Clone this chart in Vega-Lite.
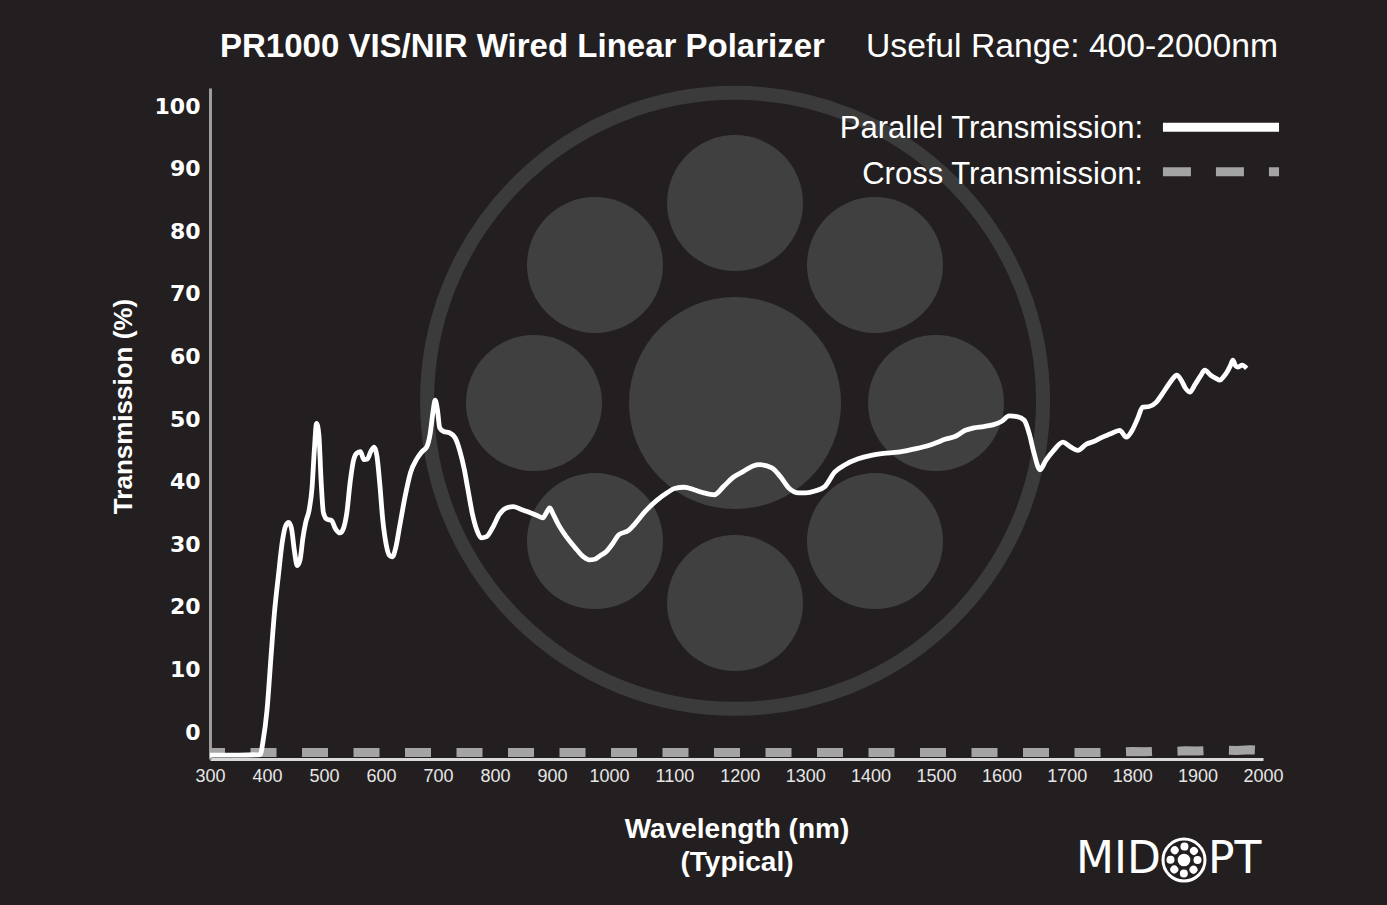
{
  "$schema": "https://vega.github.io/schema/vega-lite/v6.json",
  "width": 1053,
  "height": 671,
  "autosize": {"type": "none"},
  "padding": {"left": 210, "top": 88, "right": 124, "bottom": 146},
  "background": "#231f20",
  "config": {"view": {"stroke": null}},
  "datasets": {
    "parallel": [
      {"wl":300,"t":-3.7},{"wl":350,"t":-3.7},{"wl":388,"t":-3.6},{"wl":393,"t":-1.5},{"wl":400,"t":3.5},{"wl":407,"t":12},{"wl":413,"t":19},{"wl":420,"t":25},{"wl":427,"t":30.5},{"wl":433,"t":33},{"wl":438,"t":33.5},{"wl":443,"t":32.5},{"wl":448,"t":29},{"wl":453,"t":26.6},{"wl":458,"t":27.5},{"wl":463,"t":31},{"wl":468,"t":33.5},{"wl":474,"t":35.5},{"wl":479,"t":39},{"wl":483,"t":45},{"wl":487,"t":49.3},{"wl":491,"t":47.5},{"wl":495,"t":40},{"wl":499,"t":35},{"wl":505,"t":34},{"wl":513,"t":33.8},{"wl":520,"t":32.5},{"wl":528,"t":31.8},{"wl":534,"t":32.5},{"wl":540,"t":35},{"wl":546,"t":40},{"wl":552,"t":43.5},{"wl":558,"t":44.6},{"wl":564,"t":44.8},{"wl":570,"t":43.5},{"wl":576,"t":43.6},{"wl":582,"t":44.8},{"wl":588,"t":45.5},{"wl":593,"t":44},{"wl":598,"t":39.5},{"wl":603,"t":34},{"wl":609,"t":30},{"wl":615,"t":28.2},{"wl":620,"t":28},{"wl":626,"t":29.5},{"wl":633,"t":33},{"wl":642,"t":37.5},{"wl":652,"t":41.5},{"wl":662,"t":43.5},{"wl":672,"t":44.8},{"wl":680,"t":45.5},{"wl":686,"t":47.5},{"wl":691,"t":51},{"wl":695,"t":53},{"wl":699,"t":51.5},{"wl":703,"t":48.6},{"wl":710,"t":48},{"wl":720,"t":47.8},{"wl":730,"t":47},{"wl":738,"t":45},{"wl":746,"t":42},{"wl":752,"t":39},{"wl":760,"t":35},{"wl":768,"t":32.3},{"wl":776,"t":31},{"wl":785,"t":31.2},{"wl":795,"t":32.5},{"wl":808,"t":34.8},{"wl":820,"t":35.8},{"wl":832,"t":36},{"wl":845,"t":35.6},{"wl":860,"t":35.1},{"wl":874,"t":34.6},{"wl":884,"t":34.2},{"wl":890,"t":35},{"wl":896,"t":35.8},{"wl":902,"t":34.8},{"wl":912,"t":33},{"wl":925,"t":31.2},{"wl":940,"t":29.5},{"wl":955,"t":28},{"wl":965,"t":27.5},{"wl":975,"t":27.6},{"wl":985,"t":28.2},{"wl":995,"t":28.8},{"wl":1005,"t":30},{"wl":1015,"t":31.5},{"wl":1030,"t":32.2},{"wl":1040,"t":33.3},{"wl":1055,"t":35.2},{"wl":1073,"t":37},{"wl":1090,"t":38.3},{"wl":1100,"t":38.9},{"wl":1115,"t":39.1},{"wl":1130,"t":38.7},{"wl":1145,"t":38.2},{"wl":1161,"t":37.9},{"wl":1175,"t":39.2},{"wl":1190,"t":40.7},{"wl":1205,"t":41.6},{"wl":1220,"t":42.5},{"wl":1231,"t":42.7},{"wl":1249,"t":42.2},{"wl":1262,"t":40.8},{"wl":1275,"t":39},{"wl":1290,"t":38.2},{"wl":1301,"t":38.2},{"wl":1315,"t":38.5},{"wl":1330,"t":39.2},{"wl":1345,"t":41.5},{"wl":1361,"t":42.7},{"wl":1380,"t":43.6},{"wl":1401,"t":44.2},{"wl":1420,"t":44.5},{"wl":1442,"t":44.7},{"wl":1462,"t":45.1},{"wl":1483,"t":45.6},{"wl":1500,"t":46.2},{"wl":1515,"t":46.8},{"wl":1529,"t":47.2},{"wl":1545,"t":48.2},{"wl":1558,"t":48.6},{"wl":1573,"t":48.8},{"wl":1588,"t":49.1},{"wl":1600,"t":49.6},{"wl":1612,"t":50.5},{"wl":1624,"t":50.4},{"wl":1635,"t":49.8},{"wl":1643,"t":47.5},{"wl":1650,"t":44.5},{"wl":1659,"t":41.9},{"wl":1668,"t":43.4},{"wl":1680,"t":45},{"wl":1694,"t":46.3},{"wl":1705,"t":45.6},{"wl":1717,"t":45},{"wl":1730,"t":46},{"wl":1741,"t":46.4},{"wl":1752,"t":47},{"wl":1766,"t":47.6},{"wl":1781,"t":48.2},{"wl":1791,"t":47.1},{"wl":1800,"t":48.2},{"wl":1808,"t":50},{"wl":1816,"t":51.9},{"wl":1826,"t":52},{"wl":1837,"t":52.7},{"wl":1846,"t":54},{"wl":1853,"t":55.1},{"wl":1861,"t":56.3},{"wl":1868,"t":57},{"wl":1875,"t":56.2},{"wl":1881,"t":55},{"wl":1888,"t":54.3},{"wl":1896,"t":55.5},{"wl":1904,"t":56.8},{"wl":1911,"t":57.8},{"wl":1920,"t":57},{"wl":1928,"t":56.5},{"wl":1934,"t":56.2},{"wl":1940,"t":56.8},{"wl":1945,"t":57.5},{"wl":1950,"t":58.5},{"wl":1954,"t":59.4},{"wl":1958,"t":58.5},{"wl":1962,"t":58.3},{"wl":1968,"t":58.6},{"wl":1975,"t":58.1}
    ],
    "cross": [
      {"wl":300,"t":-3.27},{"wl":600,"t":-3.27},{"wl":1000,"t":-3.27},{"wl":1400,"t":-3.27},{"wl":1750,"t":-3.27},{"wl":1780,"t":-3.2},{"wl":1800,"t":-3.1},{"wl":1820,"t":-3.15},{"wl":1840,"t":-3.05},{"wl":1860,"t":-3.1},{"wl":1880,"t":-3.0},{"wl":1900,"t":-3.05},{"wl":1920,"t":-2.95},{"wl":1940,"t":-2.9},{"wl":1960,"t":-2.95},{"wl":1980,"t":-2.85},{"wl":2000,"t":-2.95}
    ],
    "logoOuter": [
      {"wl":1192.7,"t":84.5},{"wl":1192.7,"t":20.6},{"wl":868.4,"t":52.56},{"wl":1500,"t":52.56},{"wl":975.4,"t":74.6},{"wl":1406.7,"t":74.6},{"wl":975.4,"t":30.5},{"wl":1406.7,"t":30.5}
    ],
    "one": [{}]
  },
  "layer": [
    {
      "data": {"name": "parallel"},
      "mark": {"type": "line", "opacity": 0},
      "encoding": {
        "x": {"field": "wl", "type": "quantitative",
          "scale": {"type": "linear", "domain": [300, 1000, 2000], "range": [0, 399, 1053], "nice": false, "zero": false},
          "axis": {"title": ["Wavelength (nm)", "(Typical)"], "values": [300,400,500,600,700,800,900,1000,1100,1200,1300,1400,1500,1600,1700,1800,1900,2000], "format": "d", "ticks": false, "grid": false, "domainColor": "#d9d9d9", "domainWidth": 3, "labelColor": "#e6e6e6", "labelFont": "Liberation Sans", "labelFontSize": 18, "labelPadding": 8, "labelFlush": false, "labelOverlap": false, "titleColor": "#ffffff", "titleFont": "Liberation Sans", "titleFontWeight": "bold", "titleFontSize": 28, "titleLineHeight": 33, "titlePadding": 30}},
        "y": {"field": "t", "type": "quantitative",
          "scale": {"domain": [-4.31, 102.88], "nice": false, "zero": false},
          "axis": {"title": "Transmission (%)", "values": [0,10,20,30,40,50,60,70,80,90,100], "ticks": false, "grid": false, "domainColor": "#9d9d9d", "domainWidth": 3, "labelColor": "#ffffff", "labelFont": "DejaVu Sans", "labelFontWeight": "bold", "labelFontSize": 22, "labelPadding": 10, "labelOverlap": false, "titleColor": "#ffffff", "titleFont": "Liberation Sans", "titleFontWeight": "bold", "titleFontSize": 26, "titlePadding": 18, "titleY": 318}}
      }
    },
    {
      "data": {"name": "one"},
      "mark": {"type": "point", "shape": "circle", "filled": false, "stroke": "#3b3b3b", "strokeWidth": 14, "size": 379456, "opacity": 1},
      "encoding": {
        "x": {"datum": 1192.7, "type": "quantitative"},
        "y": {"datum": 52.9, "type": "quantitative"}
      }
    },
    {
      "data": {"name": "one"},
      "mark": {"type": "point", "shape": "circle", "filled": true, "color": "#404040", "size": 44944, "opacity": 1},
      "encoding": {
        "x": {"datum": 1192.7, "type": "quantitative"},
        "y": {"datum": 52.56, "type": "quantitative"}
      }
    },
    {
      "data": {"name": "logoOuter"},
      "mark": {"type": "point", "shape": "circle", "filled": true, "color": "#404040", "size": 18496, "opacity": 1},
      "encoding": {
        "x": {"field": "wl", "type": "quantitative"},
        "y": {"field": "t", "type": "quantitative"}
      }
    },
    {
      "data": {"name": "cross"},
      "mark": {"type": "line", "color": "#a4a4a4", "strokeWidth": 9, "strokeDash": [26, 25.5], "strokeDashOffset": 11, "strokeCap": "butt"},
      "encoding": {
        "x": {"field": "wl", "type": "quantitative"},
        "y": {"field": "t", "type": "quantitative"}
      }
    },
    {
      "data": {"name": "parallel"},
      "mark": {"type": "line", "color": "#ffffff", "strokeWidth": 4.8, "interpolate": "monotone", "strokeJoin": "round"},
      "encoding": {
        "x": {"field": "wl", "type": "quantitative"},
        "y": {"field": "t", "type": "quantitative"}
      }
    },
    {
      "data": {"name": "one"},
      "mark": {"type": "text", "text": "PR1000 VIS/NIR Wired Linear Polarizer", "font": "Liberation Sans", "fontWeight": "bold", "fontSize": 33, "align": "left", "baseline": "alphabetic", "color": "#ffffff"},
      "encoding": {"x": {"datum": 317.5, "type": "quantitative"}, "y": {"datum": 107.8, "type": "quantitative"}}
    },
    {
      "data": {"name": "one"},
      "mark": {"type": "text", "text": "Useful Range: 400-2000nm", "font": "Liberation Sans", "fontSize": 33.7, "align": "right", "baseline": "alphabetic", "color": "#ffffff"},
      "encoding": {"x": {"datum": 2023, "type": "quantitative"}, "y": {"datum": 107.8, "type": "quantitative"}}
    },
    {
      "data": {"name": "one"},
      "mark": {"type": "text", "text": "Parallel Transmission:", "font": "Liberation Sans", "fontSize": 31, "align": "right", "baseline": "alphabetic", "color": "#ffffff"},
      "encoding": {"x": {"datum": 1816.5, "type": "quantitative"}, "y": {"datum": 94.9, "type": "quantitative"}}
    },
    {
      "data": {"name": "one"},
      "mark": {"type": "text", "text": "Cross Transmission:", "font": "Liberation Sans", "fontSize": 31, "align": "right", "baseline": "alphabetic", "color": "#ffffff"},
      "encoding": {"x": {"datum": 1816.5, "type": "quantitative"}, "y": {"datum": 87.5, "type": "quantitative"}}
    },
    {
      "data": {"name": "one"},
      "mark": {"type": "rule", "color": "#ffffff", "strokeWidth": 9, "strokeCap": "butt"},
      "encoding": {"x": {"datum": 1847, "type": "quantitative"}, "x2": {"datum": 2024.5}, "y": {"datum": 96.6, "type": "quantitative"}}
    },
    {
      "data": {"name": "one"},
      "mark": {"type": "rule", "color": "#a4a4a4", "strokeWidth": 9, "strokeCap": "butt", "strokeDash": [28, 25]},
      "encoding": {"x": {"datum": 1847, "type": "quantitative"}, "x2": {"datum": 2024.5}, "y": {"datum": 89.5, "type": "quantitative"}}
    },
    {
      "data": {"name": "one"},
      "mark": {"type": "text", "text": "MID", "font": "DejaVu Sans", "fontSize": 44, "align": "left", "baseline": "alphabetic", "color": "#ffffff"},
      "encoding": {"x": {"datum": 1714, "type": "quantitative"}, "y": {"datum": -22.5, "type": "quantitative"}}
    },
    {
      "data": {"name": "one"},
      "mark": {"type": "text", "text": "PT", "font": "DejaVu Sans", "fontSize": 44, "align": "left", "baseline": "alphabetic", "color": "#ffffff"},
      "encoding": {"x": {"datum": 1915.9, "type": "quantitative"}, "y": {"datum": -22.5, "type": "quantitative"}}
    },
    {
      "data": {"name": "one"},
      "mark": {"type": "point", "shape": "circle", "filled": false, "stroke": "#ffffff", "strokeWidth": 3, "size": 1764, "opacity": 1},
      "encoding": {"x": {"datum": 1879.2, "type": "quantitative"}, "y": {"datum": -20.45, "type": "quantitative"}}
    },
    {
      "data": {"name": "one"},
      "mark": {"type": "point", "shape": "circle", "filled": false, "stroke": "#ffffff", "strokeWidth": 8, "strokeDash": [0.01, 10.6], "strokeCap": "round", "size": 729, "opacity": 1},
      "encoding": {"x": {"datum": 1879.2, "type": "quantitative"}, "y": {"datum": -20.45, "type": "quantitative"}}
    },
    {
      "data": {"name": "one"},
      "mark": {"type": "point", "shape": "circle", "filled": true, "color": "#ffffff", "size": 160, "opacity": 1},
      "encoding": {"x": {"datum": 1879.2, "type": "quantitative"}, "y": {"datum": -20.45, "type": "quantitative"}}
    }
  ]
}
